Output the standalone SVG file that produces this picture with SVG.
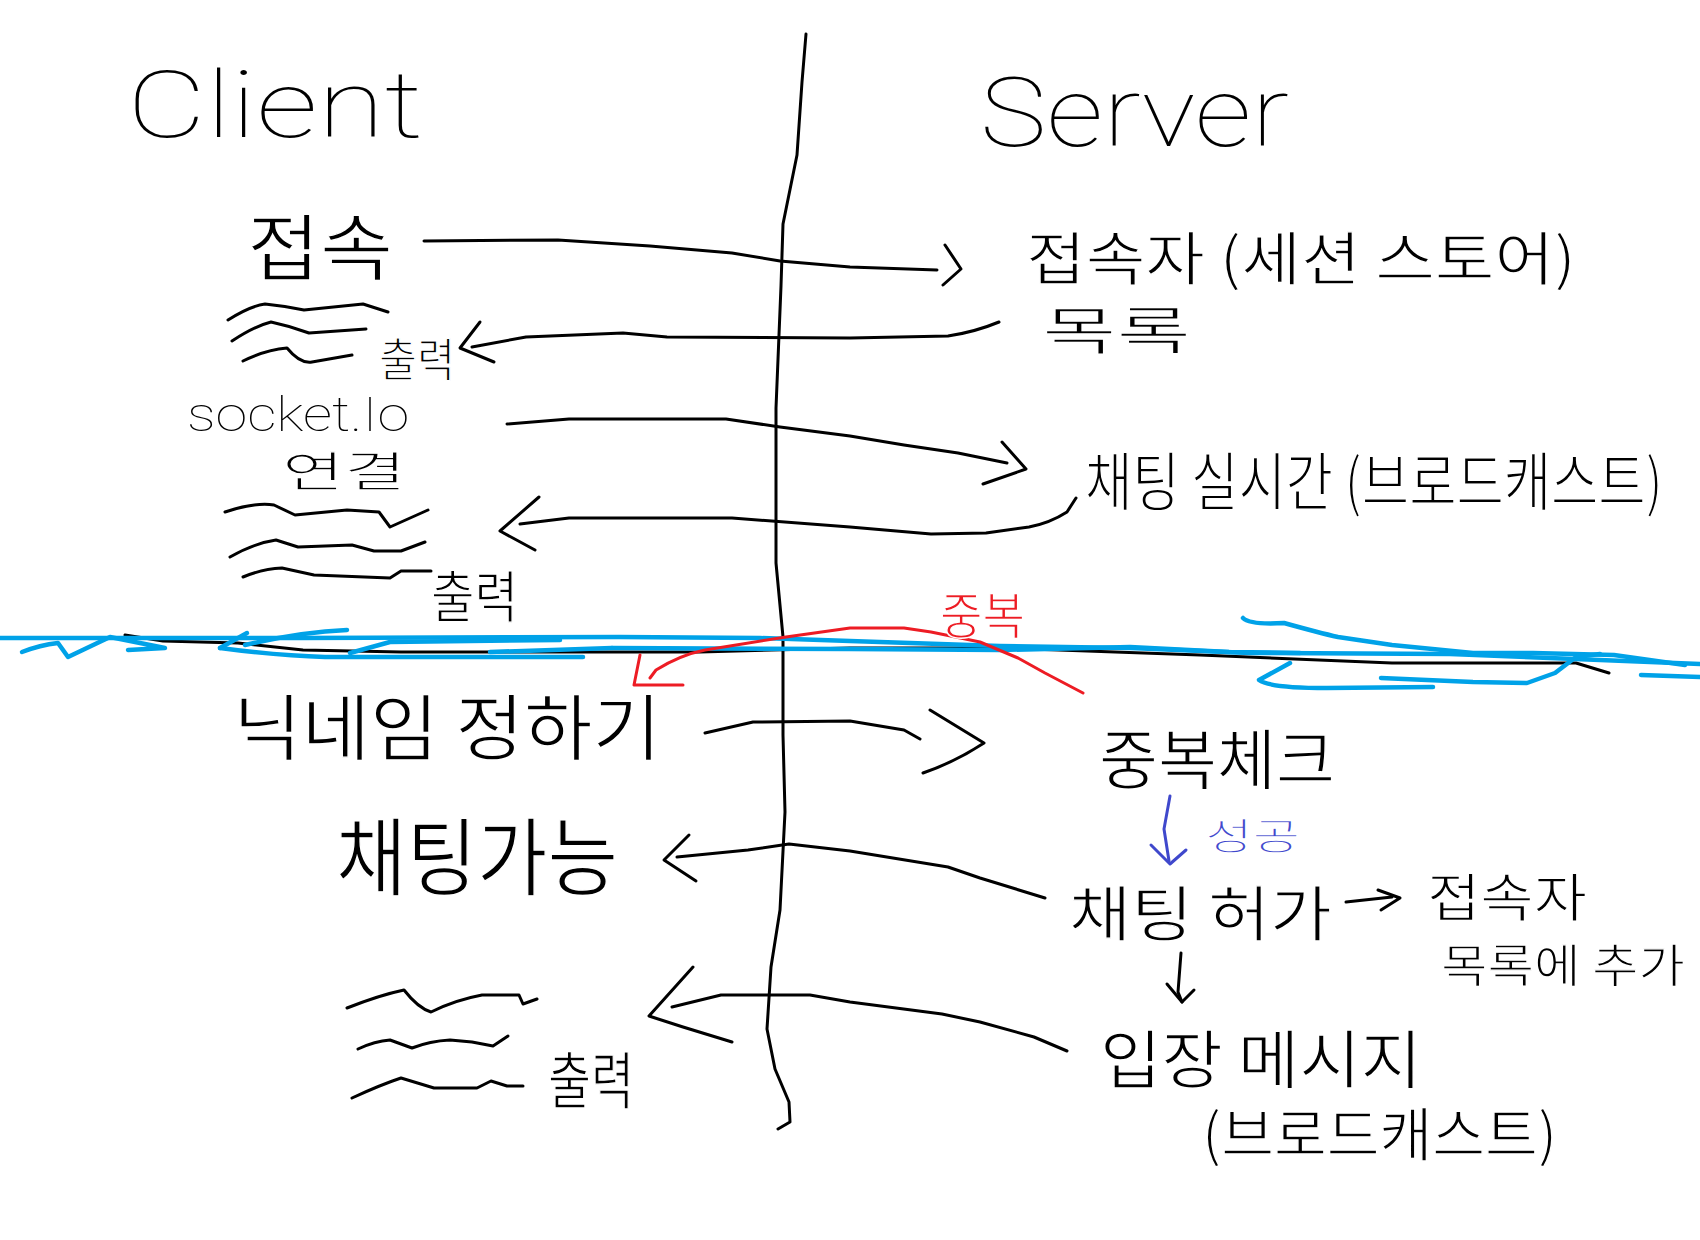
<svg xmlns="http://www.w3.org/2000/svg" width="1700" height="1240" viewBox="0 0 1700 1240">
<style>
.ln{fill:none;stroke:#000;stroke-width:3;stroke-linecap:round;stroke-linejoin:round}
.bl{fill:none;stroke:#00a2e8;stroke-width:4.5;stroke-linecap:round;stroke-linejoin:round}
.rd{fill:none;stroke:#ed1c24;stroke-width:3;stroke-linecap:round;stroke-linejoin:round}
.pu{fill:none;stroke:#3f48cc;stroke-width:3;stroke-linecap:round;stroke-linejoin:round}
.ko{font-family:"Noto Sans CJK KR","Noto Sans",sans-serif;font-weight:normal;fill:#000;stroke:#fff;stroke-width:1.4}
.en{font-family:Roboto,"Noto Sans","Liberation Sans",sans-serif;font-weight:100;fill:#000}
</style>
<rect width="1700" height="1240" fill="#fff"/>

<g id="divider">
<path class="ln" d="M806,34 L802,82 L797,155 L783,224 L781,286 L776,408 L776,563 L783,637 L783,735 L785,812 L780,910 L771,967 L767,1029 L775,1069 L789,1102 L790,1122 L778,1129"/>
</g>

<g id="client-title"><text class="en" x="127" y="137" font-size="92" textLength="296" lengthAdjust="spacingAndGlyphs">Client</text></g>
<g id="server-title"><text class="en" x="980" y="146" font-size="96" textLength="309" lengthAdjust="spacingAndGlyphs">Server</text></g>

<g id="client-connect"><text class="ko" x="247" y="274" font-size="72" textLength="146" lengthAdjust="spacingAndGlyphs">접속</text></g>
<g id="client-output1">
<path class="ln" d="M228,320 Q250,306 265,304 Q285,306 304,310 L363,304 L388,312"/>
<path class="ln" d="M232,341 Q255,326 271,322 Q290,326 309,333 L366,329"/>
<path class="ln" d="M243,361 Q265,350 287,348 Q300,364 312,362 L352,355"/>
<text class="ko" x="379" y="376" font-size="46" textLength="76" lengthAdjust="spacingAndGlyphs">출력</text>
</g>
<g id="client-socket">
<text class="en" x="187" y="431" font-size="48" textLength="222" lengthAdjust="spacingAndGlyphs">socket.Io</text>
<text class="ko" x="282" y="487" font-size="42" textLength="124" lengthAdjust="spacingAndGlyphs">연결</text>
</g>
<g id="client-output2">
<path class="ln" d="M225,512 Q255,502 274,505 L295,515 L347,510 L379,512 L390,527 L428,510"/>
<path class="ln" d="M230,557 Q255,543 276,540 L298,547 L352,545 L374,551 L401,551 L425,542"/>
<path class="ln" d="M243,577 Q262,569 282,568 L314,575 L390,578 L401,571 L431,571"/>
<text class="ko" x="431" y="617" font-size="56" textLength="87" lengthAdjust="spacingAndGlyphs">출력</text>
</g>

<g id="server-session"><text class="ko" x="1026" y="280" font-size="58" textLength="550" lengthAdjust="spacingAndGlyphs">접속자 (세션 스토어)</text></g>
<g id="server-list"><text class="ko" x="1042" y="350" font-size="52" textLength="149" lengthAdjust="spacingAndGlyphs">목록</text></g>
<g id="server-broadcast"><text class="ko" transform="translate(1085,505) scale(1,1.3)" x="0" y="0" font-size="49" textLength="578" lengthAdjust="spacingAndGlyphs">채팅 실시간 (브로드캐스트)</text></g>

<g id="separator">
<path class="ln" d="M125,635 L163,641 L238,643 L303,650 L401,652 L596,652 L700,652 L850,648 L1000,648 L1200,655 L1392,663 L1576,663 L1609,673"/>
<path class="bl" d="M0,638 L300,638 L620,637 L760,638 L850,641 L1000,646 L1130,648 L1250,653 L1450,654 L1600,660 L1700,664"/>
<path class="bl" d="M612,648 L850,649 L1000,650 L1130,647 L1229,652 L1300,653"/>
<path class="bl" d="M22,652 Q40,645 58,643 L68,657 L110,637 L165,648 L128,650"/>
<path class="bl" d="M220,648 L247,633"/>
<path class="bl" d="M245,645 Q300,632 347,630"/>
<path class="bl" d="M350,653 L390,642 L560,640"/>
<path class="bl" d="M220,648 Q280,656 325,657 L515,657 L583,657"/>
<path class="bl" d="M490,652 L612,648"/>
<path class="bl" d="M1243,618 Q1250,625 1284,623 Q1320,633 1338,637 L1392,645 L1473,653 L1533,653 L1614,655 L1685,665"/>
<path class="bl" d="M1290,663 L1259,680 Q1270,688 1327,688 L1433,687"/>
<path class="bl" d="M1381,678 L1473,682 L1527,683 L1555,673 L1576,657 L1600,654"/>
<path class="bl" d="M1641,675 L1700,677"/>
</g>

<g id="dup-note">
<path class="rd" d="M650,678 L656,670 Q680,655 705,650 L786,637 L850,628 L904,628 L931,632 L980,642 L1018,658 L1045,673 L1083,693"/>
<path class="rd" d="M640,655 L634,685 L683,685"/>
<text class="ko" x="940" y="634" font-size="50" textLength="85" lengthAdjust="spacingAndGlyphs" style="fill:#ed1c24">중복</text>
</g>

<g id="client-nickname"><text class="ko" x="233" y="754" font-size="72" textLength="428" lengthAdjust="spacingAndGlyphs">닉네임 정하기</text></g>
<g id="server-dupcheck"><text class="ko" x="1099" y="784" font-size="66" textLength="236" lengthAdjust="spacingAndGlyphs">중복체크</text></g>
<g id="success-note">
<path class="pu" d="M1170,796 L1164,829 L1169,861"/>
<path class="pu" d="M1151,845 L1170,864 L1186,850"/>
<text class="ko" x="1205" y="850" font-size="37" textLength="95" lengthAdjust="spacingAndGlyphs" style="fill:#3f48cc">성공</text>
</g>
<g id="client-chat-ok"><text class="ko" x="336" y="889" font-size="85" textLength="282" lengthAdjust="spacingAndGlyphs">채팅가능</text></g>
<g id="server-permit"><text class="ko" x="1069" y="936" font-size="60" textLength="263" lengthAdjust="spacingAndGlyphs">채팅 허가</text></g>
<g id="server-addlist">
<text class="ko" x="1427" y="917" font-size="52" textLength="160" lengthAdjust="spacingAndGlyphs">접속자</text>
<text class="ko" x="1441" y="982" font-size="46" textLength="244" lengthAdjust="spacingAndGlyphs">목록에 추가</text>
</g>
<g id="server-enter">
<text class="ko" x="1100" y="1083" font-size="64" textLength="322" lengthAdjust="spacingAndGlyphs">입장 메시지</text>
<text class="ko" x="1202" y="1156" font-size="58" textLength="355" lengthAdjust="spacingAndGlyphs">(브로드캐스트)</text>
</g>
<g id="client-output3">
<path class="ln" d="M347,1008 Q380,995 404,990 Q418,1008 431,1012 Q455,1000 482,995 L519,995 L523,1004 L537,999"/>
<path class="ln" d="M358,1049 Q375,1041 390,1040 L412,1048 Q430,1041 450,1040 L472,1042 L493,1046 L508,1036"/>
<path class="ln" d="M352,1098 Q380,1085 401,1078 L434,1088 L477,1088 L491,1081 L507,1086 L523,1086"/>
<text class="ko" x="548" y="1104" font-size="62" textLength="86" lengthAdjust="spacingAndGlyphs">출력</text>
</g>

<g id="connectors">
<path class="ln" d="M424,241 L558,240 L650,246 L732,253 L780,261 L850,267 L937,270"/>
<path class="ln" d="M945,245 L961,269 L943,285"/>
<path class="ln" d="M999,322 Q975,332 948,336 L850,338 L667,337 L623,333 L526,337 L472,347"/>
<path class="ln" d="M480,322 L460,348 L494,362"/>
<path class="ln" d="M507,424 L569,419 L726,419 L780,427 L850,436 L904,445 L958,453 L1007,463"/>
<path class="ln" d="M1002,442 L1026,469 L983,484"/>
<path class="ln" d="M1076,498 L1067,512 Q1050,523 1029,527 L986,533 L931,534 L850,527 L732,518 L569,518 L520,524"/>
<path class="ln" d="M539,497 L500,531 L535,550"/>
<path class="ln" d="M705,733 L753,722 L850,721 L904,730 L920,739"/>
<path class="ln" d="M930,710 L984,743 Q955,762 923,773"/>
<path class="ln" d="M1045,898 L980,878 L948,867 L850,851 L789,844 L748,850 L677,857"/>
<path class="ln" d="M689,835 L664,860 L696,881"/>
<path class="ln" d="M1067,1051 L1034,1037 L980,1022 L942,1014 L850,1002 L810,995 L721,995 L672,1007"/>
<path class="ln" d="M693,967 L649,1016 L683,1027 L732,1042"/>
<path class="ln" d="M1346,902 L1392,897"/>
<path class="ln" d="M1378,890 L1400,898 L1381,910"/>
<path class="ln" d="M1181,953 L1178,992 L1182,1002"/>
<path class="ln" d="M1167,984 L1182,1002 L1194,990"/>
</g>
</svg>
